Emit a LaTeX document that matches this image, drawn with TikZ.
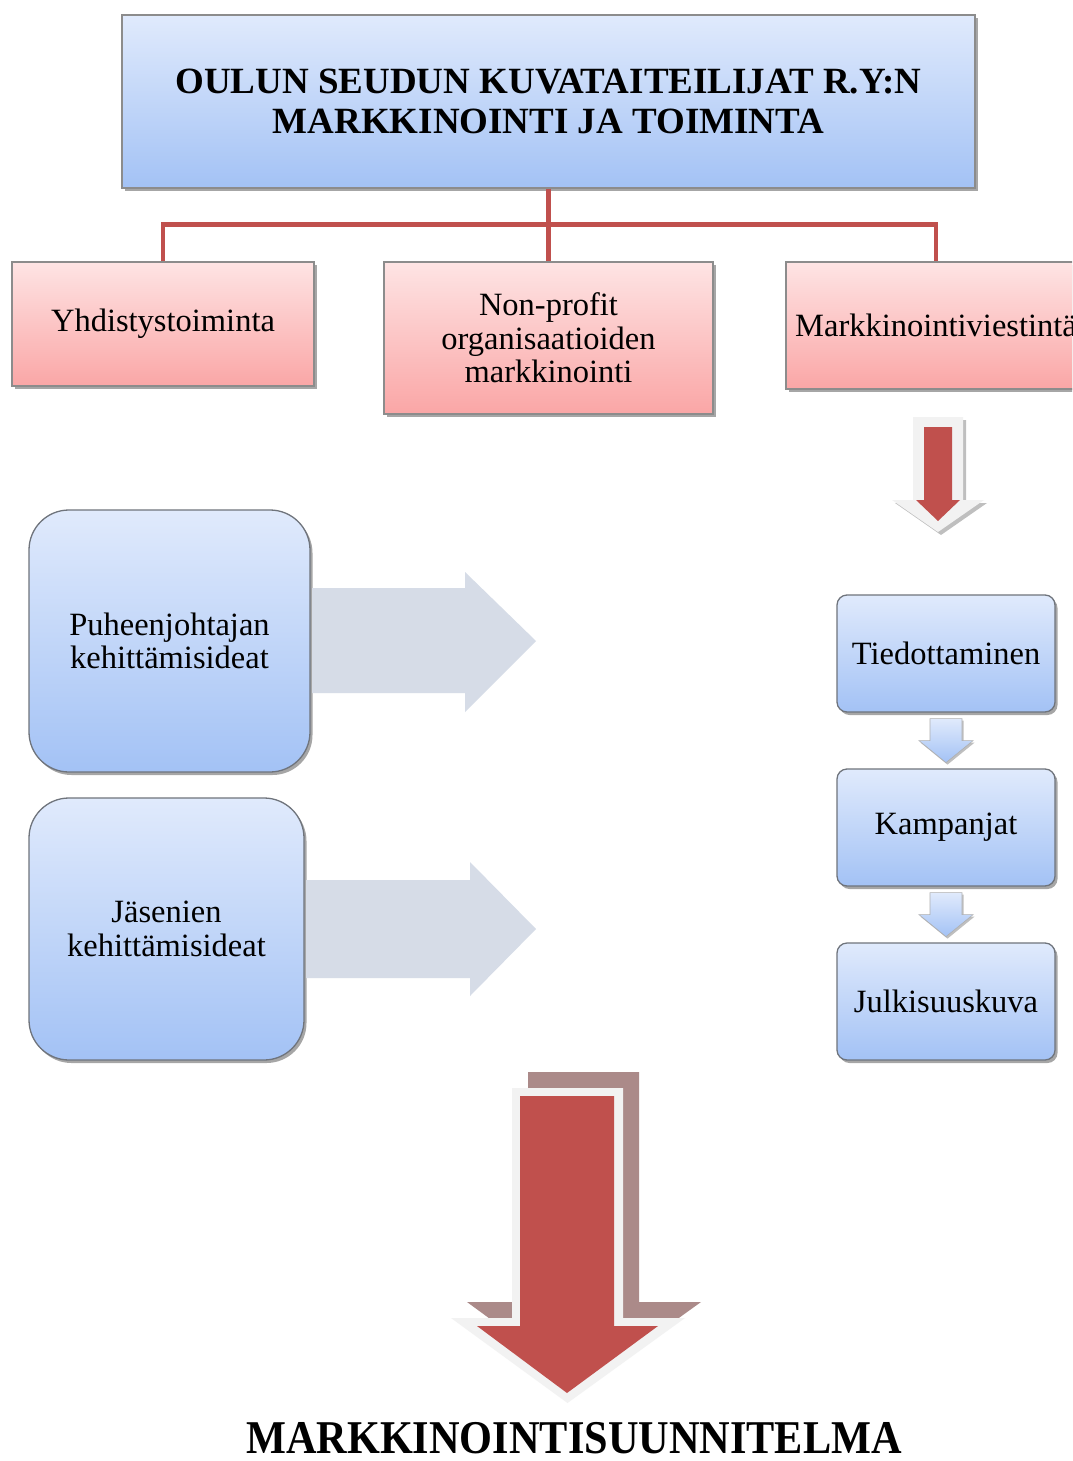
\documentclass[tikz,border=0pt]{standalone}
\usepackage{fontspec}
\setmainfont{Liberation Serif}
\usetikzlibrary{shadows,calc}
\definecolor{blueTop}{HTML}{E0EAFC}
\definecolor{blueBot}{HTML}{A3C2F5}
\definecolor{pinkTop}{HTML}{FEE4E4}
\definecolor{pinkBot}{HTML}{FAA6A6}
\definecolor{boxgray}{HTML}{8C8C8C}
\definecolor{rbgray}{HTML}{6F747C}
\definecolor{redc}{HTML}{C0504D}
\definecolor{arrgray}{HTML}{D6DCE7}
\definecolor{outl}{HTML}{F2F2F2}
\definecolor{shadowred}{HTML}{AB8A89}
\begin{document}
\begin{tikzpicture}[x=1pt,y=-1pt,
  shad/.style={drop shadow={shadow xshift=2.5pt,shadow yshift=-3pt,opacity=0.35,fill=black}},
  headbox/.style={draw=boxgray,line width=1.2pt,top color=blueTop,bottom color=blueBot,
    minimum width=853,minimum height=173,inner sep=0,align=center,shad,
    font=\fontsize{37}{40}\selectfont\bfseries},
  pinkbox/.style={draw=boxgray,line width=1.2pt,top color=pinkTop,bottom color=pinkBot,
    inner sep=0,align=center,shad,font=\fontsize{32.5}{33.5}\selectfont},
  roundbox/.style={draw=rbgray,line width=1.3pt,top color=blueTop,bottom color=blueBot,
    rounded corners=40pt,inner sep=0,align=center,shad,font=\fontsize{32.5}{33.5}\selectfont},
  smallbox/.style={draw=rbgray,line width=1.3pt,top color=blueTop,bottom color=blueBot,
    rounded corners=10pt,minimum width=218,minimum height=117,inner sep=0,align=center,shad,
    font=\fontsize{32.5}{34}\selectfont},
  redline/.style={draw=redc,line width=4.5pt},
  grayarr/.style={fill=arrgray},
  bluearr/.style={top color=blueTop,bottom color=blueBot,draw=boxgray!70,line width=0.6pt,
    drop shadow={shadow xshift=1.5pt,shadow yshift=-2pt,opacity=0.25,fill=black}},
]
\useasboundingbox (0,0) rectangle (1072,1461);
\clip (0,0) rectangle (1072,1461);
\fill[white] (0,0) rectangle (1072,1461);

% top box
\node[headbox] (top) at (548.5,101.5) {OULUN SEUDUN KUVATAITEILIJAT R.Y:N\\MARKKINOINTI JA TOIMINTA};

% pink boxes
\node[pinkbox,minimum width=302,minimum height=124] (p1) at (163,324) {Yhdistystoiminta};
\node[pinkbox,minimum width=329,minimum height=152] (p2) at (548.5,338) {Non-profit\\organisaatioiden\\markkinointi};
\node[pinkbox,minimum width=300,minimum height=127] (p3) at (936,325.5) {Markkinointiviestintä};

% red connectors
\draw[redline] (top.south) -- (p2.north);
\draw[redline] (p1.north) -- ++(0,-37) -| (p3.north);

% small red down arrow
\fill[black,opacity=0.25] (916,420) -- (966,420) -- (966,503) -- (987,503) -- (941,535) -- (895,503) -- (916,503) -- cycle;
\fill[outl] (913,417) -- (963,417) -- (963,500) -- (984,500) -- (938,532) -- (892,500) -- (913,500) -- cycle;
\fill[redc] (924,427) -- (952,427) -- (952,500) -- (960,500) -- (938,521) -- (916,500) -- (924,500) -- cycle;

% rounded boxes on the left
\node[roundbox,minimum width=281,minimum height=262] (b1) at (169.5,641) {Puheenjohtajan\\kehittämisideat};
\node[roundbox,minimum width=275,minimum height=262] (b2) at (166.5,929) {Jäsenien\\kehittämisideat};

% gray block arrows
\fill[grayarr] (312,588) -- (465,588) -- (465,572) -- (536,641) -- (465,712) -- (465,693) -- (312,693) -- cycle;
\fill[grayarr] (306,880) -- (470,880) -- (470,862) -- (536,929) -- (470,996) -- (470,978) -- (306,978) -- cycle;

% right small boxes
\node[smallbox] (t1) at (946,653.5) {Tiedottaminen};
\node[smallbox] (t2) at (946,827.5) {Kampanjat};
\node[smallbox] (t3) at (946,1001.5) {Julkisuuskuva};

% small blue arrows
\path[bluearr] ($(t1.south)+(-16,6)$) -- ++(32,0) -- ++(0,22) -- ++(11,0) -- ($(t1.south)+(0,50)$) -- ($(t1.south)+(-27,28)$) -- ++(11,0) -- cycle;
\path[bluearr] ($(t2.south)+(-16,6)$) -- ++(32,0) -- ++(0,22) -- ++(11,0) -- ($(t2.south)+(0,50)$) -- ($(t2.south)+(-27,28)$) -- ++(11,0) -- cycle;

% big red arrow
\fill[shadowred] (528,1072) -- (639,1072) -- (639,1302) -- (701,1302) -- (583,1387) -- (467,1302) -- (528,1302) -- cycle;
\fill[outl] (512,1088) -- (623,1088) -- (623,1318) -- (685,1318) -- (567.5,1403) -- (451,1318) -- (512,1318) -- cycle;
\fill[redc] (520,1096) -- (614,1096) -- (614,1326) -- (658,1326) -- (567,1393) -- (477,1326) -- (520,1326) -- cycle;

% bottom label
\node[inner sep=0,font=\fontsize{47}{50}\selectfont\bfseries] (plan) at (574,1438) {\scalebox{0.9}[1]{MARKKINOINTISUUNNITELMA}};
\end{tikzpicture}
\end{document}
